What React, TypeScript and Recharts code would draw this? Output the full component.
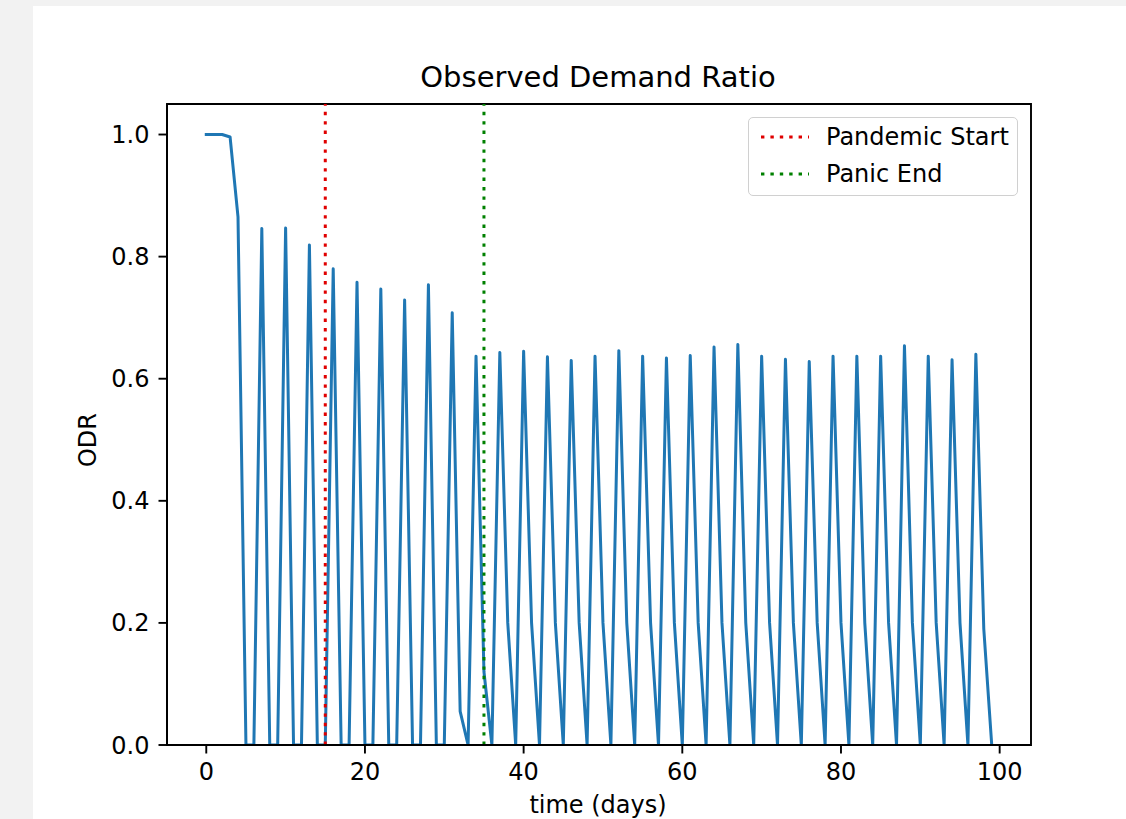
import React from 'react';
import { LineChart, Line, XAxis, YAxis, ReferenceLine, ReferenceArea } from 'recharts';

const days = [
  0, 1, 2, 3, 4, 5, 6, 7, 8, 9,
  10, 11, 12, 13, 14, 15, 16, 17, 18, 19,
  20, 21, 22, 23, 24, 25, 26, 27, 28, 29,
  30, 31, 32, 33, 34, 35, 36, 37, 38, 39,
  40, 41, 42, 43, 44, 45, 46, 47, 48, 49,
  50, 51, 52, 53, 54, 55, 56, 57, 58, 59,
  60, 61, 62, 63, 64, 65, 66, 67, 68, 69,
  70, 71, 72, 73, 74, 75, 76, 77, 78, 79,
  80, 81, 82, 83, 84, 85, 86, 87, 88, 89,
  90, 91, 92, 93, 94, 95, 96, 97, 98, 99,
];

const odr = [
  1.0, 1.0, 1.0, 0.996, 0.865, 0, 0, 0.846, 0, 0,
  0.847, 0, 0, 0.819, 0, 0, 0.78, 0, 0, 0.758,
  0, 0, 0.747, 0, 0, 0.729, 0, 0, 0.754, 0,
  0, 0.708, 0.055, 0, 0.637, 0.12, 0, 0.643, 0.2, 0,
  0.645, 0.2, 0, 0.636, 0.2, 0, 0.63, 0.2, 0, 0.637,
  0.2, 0, 0.646, 0.2, 0, 0.637, 0.2, 0, 0.634, 0.2,
  0, 0.638, 0.2, 0, 0.652, 0.2, 0, 0.656, 0.2, 0,
  0.637, 0.2, 0, 0.632, 0.2, 0, 0.628, 0.2, 0, 0.637,
  0.2, 0, 0.637, 0.2, 0, 0.637, 0.2, 0, 0.654, 0.2,
  0, 0.637, 0.2, 0, 0.631, 0.2, 0, 0.64, 0.19, 0,
];

const xTicks = [0, 20, 40, 60, 80, 100];
const yTicks = [0, 0.2, 0.4, 0.6, 0.8, 1.0];
const pandemicStart = 15;
const panicEnd = 35;
const xDomain = [-4.95, 103.95];
const yDomain = [0, 1.05];

const data = days.map((t, i) => ({ t, odr: odr[i] }));

const FONT = '"DejaVu Sans", sans-serif';
const tickStyle = { fontFamily: FONT, fontSize: 24, fill: '#000' };

function LegendItem({ color, label }: { color: string; label: string }) {
  return (
    <div style={{ display: 'flex', alignItems: 'center', height: 37 }}>
      <svg width={52} height={10} style={{ marginLeft: 10 }}>
        <line x1={2} y1={5} x2={50} y2={5} stroke={color} strokeWidth={3} strokeDasharray="3.4 6" />
      </svg>
      <span style={{ marginLeft: 15, fontFamily: FONT, fontSize: 24, color: '#000', lineHeight: '24px' }}>{label}</span>
    </div>
  );
}

export default function App() {
  return (
    <div style={{ position: 'absolute', left: 0, top: 0, width: 1126, height: 819, background: '#f2f2f2', overflow: 'hidden' }}>
      <div style={{ position: 'absolute', left: 33, top: 6, width: 1093, height: 813, background: '#ffffff' }} />
      <div style={{ position: 'absolute', left: 0, top: 0 }}>
        <LineChart width={1126} height={819} data={data} margin={{ top: 104, right: 95, bottom: 34, left: 97 }}>
          <XAxis
            dataKey="t"
            type="number"
            domain={xDomain}
            ticks={xTicks}
            allowDataOverflow
            height={40}
            tick={tickStyle}
            tickSize={8.5}
            tickMargin={9}
            stroke="#000"
            strokeWidth={1.9}
            interval={0}
          />
          <YAxis
            type="number"
            domain={yDomain}
            ticks={yTicks}
            allowDataOverflow
            width={70}
            tick={tickStyle}
            tickSize={8.5}
            tickMargin={9}
            tickFormatter={(v: number) => v.toFixed(1)}
            stroke="#000"
            strokeWidth={1.9}
            interval={0}
          />
          <Line
            type="linear"
            dataKey="odr"
            stroke="#1f77b4"
            strokeWidth={3}
            strokeLinejoin="round"
            strokeLinecap="square"
            dot={false}
            activeDot={false}
            isAnimationActive={false}
          />
          <ReferenceLine x={pandemicStart} stroke="#e00000" strokeWidth={3} strokeDasharray="3.4 6" />
          <ReferenceLine x={panicEnd} stroke="#008000" strokeWidth={3} strokeDasharray="3.4 6" />
          <ReferenceArea x1={xDomain[0]} x2={xDomain[1]} y1={yDomain[0]} y2={yDomain[1]} fill="none" fillOpacity={0} stroke="#000" strokeWidth={1.9} strokeOpacity={1} />
        </LineChart>
      </div>
      <div style={{ position: 'absolute', left: 598, top: 77, transform: 'translate(-50%, -50%)', fontFamily: FONT, fontSize: 29, lineHeight: '29px', whiteSpace: 'nowrap', color: '#000' }}>
        Observed Demand Ratio
      </div>
      <div style={{ position: 'absolute', left: 598, top: 805, transform: 'translate(-50%, -50%)', fontFamily: FONT, fontSize: 24, lineHeight: '24px', whiteSpace: 'nowrap', color: '#000' }}>
        time (days)
      </div>
      <div style={{ position: 'absolute', left: 88, top: 440, transform: 'translate(-50%, -50%) rotate(-90deg)', fontFamily: FONT, fontSize: 24, lineHeight: '24px', whiteSpace: 'nowrap', color: '#000' }}>
        ODR
      </div>
      <div style={{ position: 'absolute', left: 748, top: 117, width: 270, height: 79, border: '1.5px solid #d0d0d0', borderRadius: 5, background: 'rgba(255,255,255,0.8)', boxSizing: 'border-box', paddingTop: 0 }}>
        <LegendItem color="#e00000" label="Pandemic Start" />
        <LegendItem color="#008000" label="Panic End" />
      </div>
    </div>
  );
}
